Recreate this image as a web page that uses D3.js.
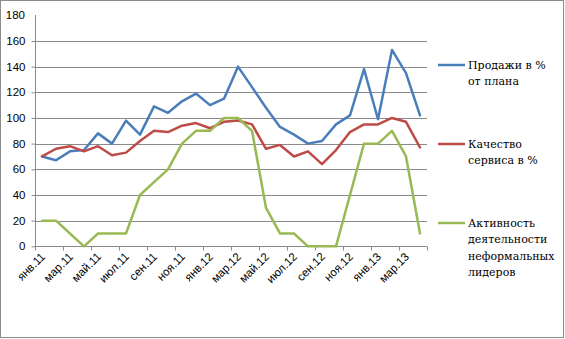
<!DOCTYPE html>
<html><head><meta charset="utf-8">
<script src="https://cdn.jsdelivr.net/npm/d3@7"></script>
<style>body{margin:0;background:#fff}svg{display:block}
.leg{font-family:"DejaVu Serif",serif;font-size:11px}
.ax{font-family:"Liberation Sans",Arial,sans-serif;font-size:11.5px}
</style>
</head><body>
<svg id="c" width="565" height="339"></svg>
<script>
const categories = ["янв.11","фев.11","мар.11","апр.11","май.11","июн.11","июл.11","авг.11","сен.11","окт.11","ноя.11","дек.11",
"янв.12","фев.12","мар.12","апр.12","май.12","июн.12","июл.12","авг.12","сен.12","окт.12","ноя.12","дек.12",
"янв.13","фев.13","мар.13","апр.13"];
const sales =    [70,67,74,75,88,80,98,87,109,104,113,119,110,115,140,124,108,93,87,80,82,95,102,138,99,153,135,102];
const quality =  [70,76,78,74,78,71,73,82,90,89,94,96,92,97,98,95,76,79,70,74,64,75,89,95,95,100,97,77];
const activity = [20,20,10,0,10,10,10,40,50,60,80,90,90,100,100,90,30,10,10,0,0,0,40,80,80,90,70,10];
const yTicks = [0,20,40,60,80,100,120,140,160,180];
const seriesNames = [["Продажи в %","от плана"],["Качество","сервиса в %"],["Активность","деятельности","неформальных","лидеров"]];
const colors = ["#4A7EBB","#BE4B48","#98B954"];

const svg = d3.select("#c");
svg.append("rect").attr("x",0.5).attr("y",0.5).attr("width",563).attr("height",337)
  .attr("fill","#fff").attr("stroke","#8c8c8c");

const x = d3.scaleBand().domain(categories).range([35,427]).padding(0);
const y = d3.scaleLinear().domain([0,180]).range([246.3,15.3]);
const cx = d => x(d) + x.bandwidth()/2;
const grid = "#8a8a8a";

svg.append("g").selectAll("line").data(yTicks.filter(v=>v>0 && v<180)).join("line")
  .attr("x1",35).attr("x2",427).attr("y1",d=>Math.round(y(d))+0.5).attr("y2",d=>Math.round(y(d))+0.5)
  .attr("stroke",grid).attr("stroke-width",1);

const yAxis = svg.append("g").attr("transform","translate(35.5,0)")
  .call(d3.axisLeft(y).tickValues(yTicks.filter(v=>v<180)).tickSize(4).tickPadding(6).tickFormat(d3.format("d")));
yAxis.attr("font-family",null).attr("font-size",null);
yAxis.select(".domain").remove();
yAxis.selectAll(".tick line").attr("stroke",grid);
yAxis.selectAll("text").attr("class","ax").attr("fill","#000");
svg.append("line").attr("x1",35.5).attr("x2",35.5).attr("y1",15).attr("y2",246.5).attr("stroke",grid);
svg.append("text").attr("class","ax").attr("x",25).attr("y",y(180)).attr("dy","0.32em").attr("text-anchor","end")
  .text(d3.format("d")(180));

const y0 = Math.round(y(0))+0.5;
svg.append("line").attr("x1",35).attr("x2",427).attr("y1",y0).attr("y2",y0).attr("stroke",grid);
const tickCats = categories.filter((d,i)=>i%2===0);
const tickXs = tickCats.map(d=>x(d)).concat([x.range()[1]]);
svg.append("g").selectAll("line").data(tickXs).join("line")
  .attr("x1",d=>Math.round(d)+0.5).attr("x2",d=>Math.round(d)+0.5).attr("y1",y0).attr("y2",y0+4).attr("stroke",grid);
svg.append("g").selectAll("text").data(tickCats).join("text")
  .attr("class","ax")
  .attr("transform",d=>`translate(${cx(d)+1},${y0+8}) rotate(-45)`)
  .attr("text-anchor","end").attr("dy","0.35em").attr("fill","#000")
  .text(d=>d);

const line = d3.line().x((d,i)=>cx(categories[i])).y(d=>y(d));
[sales,quality,activity].forEach((s,k)=>{
  svg.append("path").datum(s).attr("d",line).attr("fill","none")
    .attr("stroke",colors[k]).attr("stroke-width",2.5).attr("stroke-linejoin","round").attr("stroke-linecap","round");
});

const legY = [65,144,223];
seriesNames.forEach((names,k)=>{
  const g = svg.append("g");
  g.append("line").attr("x1",438).attr("x2",465).attr("y1",legY[k]).attr("y2",legY[k])
    .attr("stroke",colors[k]).attr("stroke-width",2.5);
  names.forEach((t,j)=>{
    g.append("text").attr("class","leg").attr("x",468).attr("y",legY[k]+j*16.5).attr("dy","0.35em")
      .attr("fill","#000").text(t);
  });
});
</script>
</body></html>
